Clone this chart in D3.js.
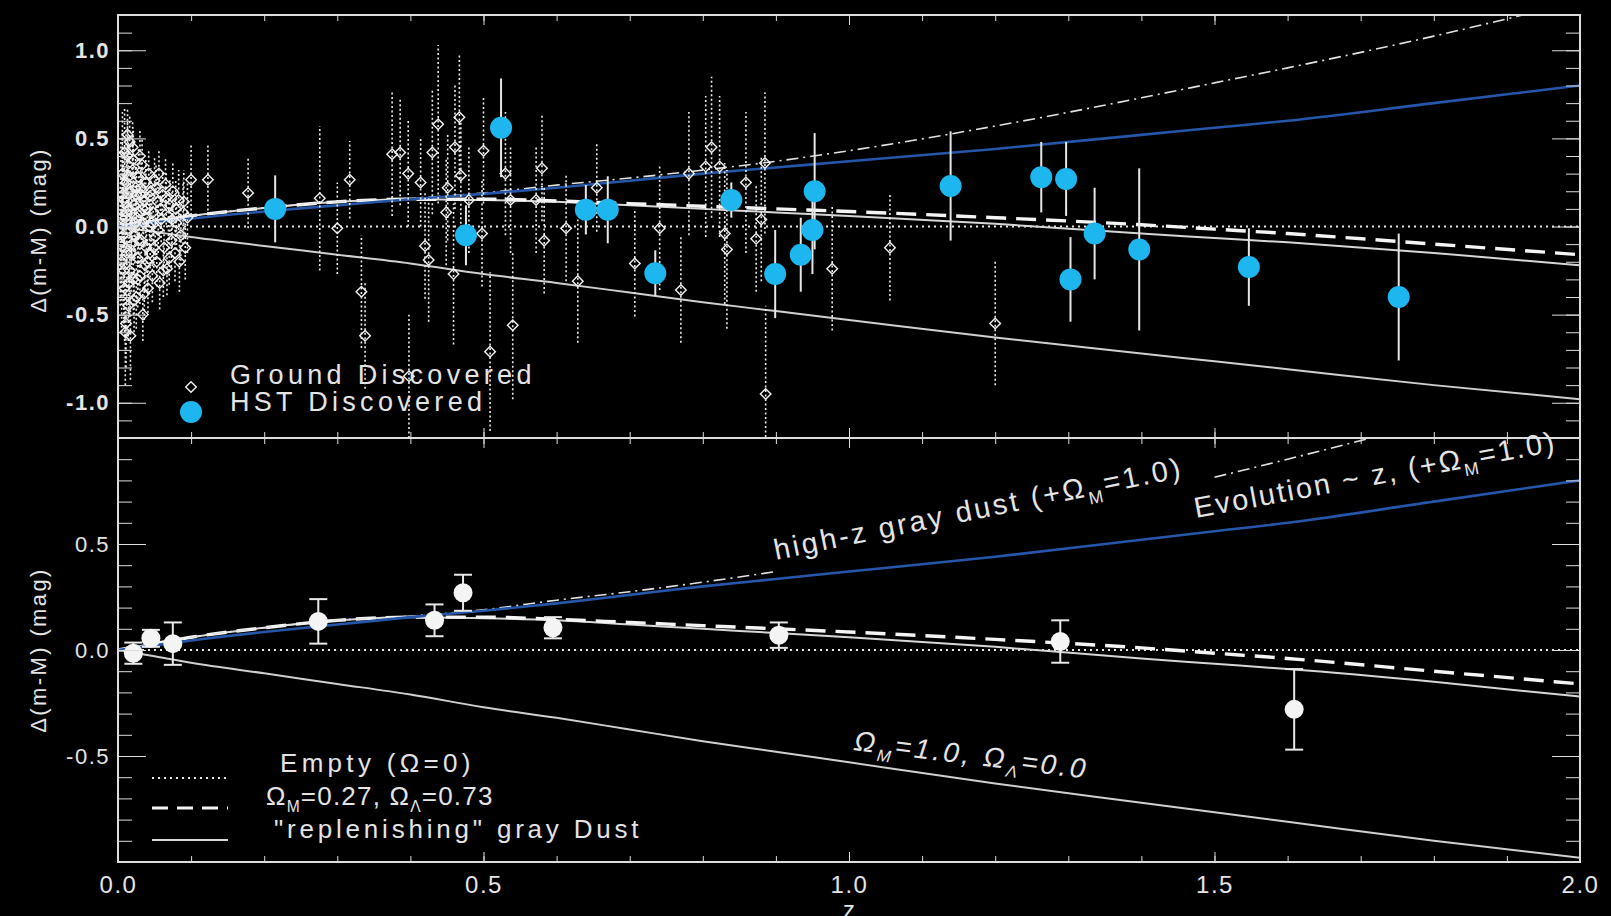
<!DOCTYPE html>
<html>
<head>
<meta charset="utf-8">
<script src="https://cdn.jsdelivr.net/npm/d3@7"></script>
<style>
  html, body { margin: 0; background: #000; }
  svg { display: block; background: #000; }
  text { font-family: "Liberation Sans", Arial, Helvetica, sans-serif; fill: #e4e4e4; }
  .tick text { font-size: 22px; letter-spacing: 1.5px; }
  .xlab .tick text { font-size: 24px; letter-spacing: 1.5px; }
  .bold .tick text { font-weight: bold; }
</style>
</head>
<body>
<svg id="chart" width="1611" height="916"></svg>
<script>
// ---- data ----
// HST discovered SNe (top panel, cyan)
const hstZ   = [0.215, 0.476, 0.524, 0.640, 0.670, 0.735, 0.839, 0.899, 0.934, 0.950, 0.953, 1.139, 1.263, 1.297, 1.303, 1.336, 1.397, 1.547, 1.752];
const hstDm  = [0.10, -0.05, 0.56, 0.095, 0.095, -0.265, 0.15, -0.27, -0.16, -0.02, 0.20, 0.23, 0.28, 0.27, -0.30, -0.04, -0.13, -0.23, -0.40];
const hstErr = [0.19, 0.17, 0.28, 0.14, 0.19, 0.13, 0.10, 0.25, 0.21, 0.25, 0.33, 0.31, 0.20, 0.21, 0.24, 0.26, 0.46, 0.22, 0.36];

// ground discovered SNe (top panel, open diamonds)
const groundZ = [
  0.004, 0.005, 0.006, 0.007, 0.008, 0.009, 0.010, 0.011, 0.012, 0.013, 0.014, 0.015, 0.016, 0.017, 0.018, 0.019,
  0.020, 0.021, 0.022, 0.023, 0.024, 0.025, 0.026, 0.027, 0.028, 0.029, 0.030, 0.031, 0.032, 0.033, 0.034, 0.035,
  0.036, 0.037, 0.038, 0.039, 0.040, 0.041, 0.042, 0.043, 0.044, 0.045, 0.047, 0.048, 0.050, 0.051, 0.053, 0.054,
  0.056, 0.057, 0.059, 0.061, 0.063, 0.065, 0.067, 0.069, 0.071, 0.073, 0.075, 0.078, 0.080, 0.083, 0.086, 0.089,
  0.092, 0.095,
  0.003, 0.006, 0.008, 0.009, 0.011, 0.012, 0.014, 0.015, 0.016, 0.018, 0.019, 0.021, 0.022, 0.024, 0.025, 0.027,
  0.028, 0.030, 0.032, 0.034, 0.036, 0.038, 0.040, 0.043, 0.046, 0.049, 0.052, 0.055, 0.058, 0.062, 0.066, 0.070,
  0.074, 0.079, 0.084, 0.090, 0.010, 0.013, 0.017, 0.020,
  0.100, 0.123, 0.178, 0.276, 0.300, 0.317, 0.333, 0.338, 0.375, 0.386, 0.397, 0.398, 0.414, 0.420, 0.425, 0.430,
  0.438, 0.449, 0.451, 0.459, 0.461, 0.467, 0.469, 0.480, 0.498, 0.500, 0.509, 0.530, 0.537, 0.540, 0.572, 0.580,
  0.583, 0.613, 0.629, 0.655, 0.707, 0.741, 0.770, 0.781, 0.804, 0.812, 0.823, 0.830, 0.833, 0.859, 0.873, 0.880,
  0.885, 0.886, 0.977, 1.056, 1.200
];
const groundDm = [
  0.05, -0.20, 0.30, -0.05, 0.15, -0.35, 0.05, 0.25, -0.15, 0.40, -0.45, 0.10, -0.25, 0.20, 0.00, -0.10,
  0.32, -0.30, 0.12, -0.05, 0.22, -0.40, 0.05, -0.18, 0.28, 0.08, -0.28, 0.18, -0.08, 0.35, -0.50, 0.02,
  0.15, -0.22, 0.25, -0.12, 0.10, -0.35, 0.30, 0.00, -0.15, 0.20, -0.28, 0.08, 0.26, -0.06, -0.20, 0.14,
  0.30, -0.32, 0.04, 0.18, -0.12, 0.24, -0.24, 0.06, 0.12, -0.08, 0.20, -0.15, 0.02, 0.15, -0.05, 0.08,
  -0.12, 0.05,
  -0.10, 0.18, -0.25, 0.42, -0.55, 0.08, 0.28, -0.32, 0.48, -0.15, 0.14, 0.38, -0.42, 0.02, 0.18, -0.30,
  -0.08, 0.40, 0.22, 0.10, -0.38, 0.05, -0.20, 0.17, 0.02, -0.12, 0.22, -0.02, 0.10, -0.25, 0.16, -0.18,
  0.04, 0.10, -0.20, 0.14, -0.60, 0.52, -0.62, 0.45,
  0.265, 0.265, 0.19, 0.16, -0.01, 0.265, -0.37, -0.62, 0.41, 0.42, 0.30, -0.85, 0.25, -0.11, -0.19, 0.42,
  0.58, 0.08, 0.22, -0.27, 0.45, 0.62, 0.29, 0.15, -0.04, 0.43, -0.71, 0.30, 0.15, -0.56, 0.15, 0.33,
  -0.08, -0.01, -0.31, 0.22, -0.21, -0.01, -0.36, 0.30, 0.34, 0.45, 0.34, -0.04, -0.13, 0.25, -0.07, 0.04,
  0.36, -0.95, -0.24, -0.12, -0.55
];
const groundErr = [
  0.45, 0.40, 0.35, 0.40, 0.30, 0.30, 0.25, 0.30, 0.30, 0.20, 0.20, 0.22, 0.25, 0.20, 0.20, 0.22,
  0.18, 0.20, 0.18, 0.16, 0.18, 0.18, 0.15, 0.18, 0.16, 0.15, 0.16, 0.15, 0.15, 0.15, 0.15, 0.14,
  0.14, 0.15, 0.14, 0.14, 0.13, 0.14, 0.14, 0.13, 0.14, 0.13, 0.15, 0.13, 0.14, 0.13, 0.14, 0.13,
  0.14, 0.15, 0.13, 0.14, 0.14, 0.15, 0.15, 0.14, 0.15, 0.15, 0.16, 0.16, 0.15, 0.17, 0.17, 0.18,
  0.18, 0.20,
  0.35, 0.35, 0.30, 0.25, 0.25, 0.30, 0.25, 0.22, 0.15, 0.22, 0.20, 0.18, 0.18, 0.16, 0.16, 0.16,
  0.15, 0.15, 0.15, 0.14, 0.15, 0.14, 0.14, 0.13, 0.13, 0.14, 0.14, 0.13, 0.14, 0.15, 0.15, 0.15,
  0.16, 0.16, 0.17, 0.18, 0.30, 0.15, 0.25, 0.15,
  0.20, 0.20, 0.20, 0.41, 0.26, 0.22, 0.32, 0.30, 0.35, 0.30, 0.30, 0.35, 0.25, 0.30, 0.35, 0.35,
  0.45, 0.30, 0.30, 0.40, 0.35, 0.35, 0.30, 0.30, 0.30, 0.30, 0.45, 0.35, 0.30, 0.42, 0.30, 0.30,
  0.30, 0.30, 0.35, 0.25, 0.30, 0.35, 0.30, 0.35, 0.40, 0.40, 0.40, 0.40, 0.45, 0.40, 0.30, 0.35,
  0.40, 0.50, 0.35, 0.30, 0.35
];

// binned points (bottom panel)
const binZ   = [0.021, 0.045, 0.075, 0.274, 0.433, 0.472, 0.595, 0.904, 1.289, 1.609];
const binDm  = [-0.015, 0.055, 0.03, 0.135, 0.14, 0.27, 0.105, 0.07, 0.04, -0.28];
const binErr = [0.05, 0.04, 0.10, 0.105, 0.075, 0.085, 0.05, 0.06, 0.10, 0.19];

// model curves, Δ(m-M) relative to the empty universe
const modelZ      = [0, 0.05, 0.1, 0.2, 0.3, 0.4, 0.5, 0.6, 0.7, 0.8, 0.9, 1.0, 1.2, 1.4, 1.5, 1.6, 1.8, 2.0];
const lcdmDm      = [0, 0.03, 0.06, 0.105, 0.14, 0.155, 0.155, 0.145, 0.13, 0.115, 0.10, 0.085, 0.05, 0.01, -0.015, -0.04, -0.10, -0.16];
const replDustDm  = [0, 0.03, 0.06, 0.105, 0.14, 0.155, 0.15, 0.14, 0.12, 0.10, 0.08, 0.06, 0.015, -0.04, -0.065, -0.09, -0.15, -0.22];
const omegaM1Dm   = [0, -0.03, -0.06, -0.11, -0.16, -0.21, -0.27, -0.32, -0.375, -0.43, -0.48, -0.53, -0.63, -0.72, -0.765, -0.81, -0.90, -0.98];
const grayDustDm  = [0, 0.03, 0.06, 0.105, 0.14, 0.16, 0.19, 0.235, 0.275, 0.32, 0.37, 0.43, 0.57, 0.73, 0.815, 0.90, 1.08, 1.28];
const evolutionDm = [0, 0.022, 0.045, 0.085, 0.12, 0.155, 0.185, 0.22, 0.26, 0.30, 0.335, 0.37, 0.44, 0.52, 0.56, 0.60, 0.70, 0.80];

const xMajor = [0, 0.5, 1, 1.5, 2];
const topLabels = [-1, -0.5, 0, 0.5, 1];
const botLabels = [-0.5, 0, 0.5];

// ---- layout ----
const X0 = 118, X1 = 1580;
const T0 = 15, MID = 438, B1 = 862;
const FG = '#dcdcdc';
const CYAN = '#1db6ee';

const svg = d3.select('#chart');
const x = d3.scaleLinear().domain([0, 2]).range([X0, X1]);
const yTop = d3.scaleLinear().domain([-1.2, 1.2]).range([MID, T0]);
const yBot = d3.scaleLinear().domain([-1, 1]).range([B1, MID]);

const defs = svg.append('defs');
defs.append('clipPath').attr('id', 'clipTop').append('rect')
  .attr('x', X0).attr('y', T0).attr('width', X1 - X0).attr('height', MID - T0);
defs.append('clipPath').attr('id', 'clipBot').append('rect')
  .attr('x', X0).attr('y', MID).attr('width', X1 - X0).attr('height', B1 - MID);

const xMinor = d3.range(0, 21).map(i => i / 10);

function yAxes(y, lo, hi, labels, bold) {
  const minors = d3.range(Math.round(lo * 10), Math.round(hi * 10) + 1).map(i => i / 10);
  const majors = minors.filter(v => Math.abs(v * 2 - Math.round(v * 2)) < 1e-6);
  const left = svg.append('g').attr('class', bold ? 'bold' : '')
    .attr('transform', `translate(${X0},0)`).attr('color', FG);
  left.append('g').call(d3.axisLeft(y).tickValues(majors).tickSizeInner(-28).tickSizeOuter(0).tickFormat(''));
  left.append('g').call(d3.axisLeft(y).tickValues(minors).tickSizeInner(-14).tickSizeOuter(0).tickFormat(''));
  left.append('g').call(d3.axisLeft(y).tickValues(labels).tickSize(0).tickPadding(8).tickFormat(d => d.toFixed(1)));
  const right = svg.append('g').attr('transform', `translate(${X1},0)`).attr('color', FG);
  right.append('g').call(d3.axisRight(y).tickValues(majors).tickSizeInner(-28).tickSizeOuter(0).tickFormat(''));
  right.append('g').call(d3.axisRight(y).tickValues(minors).tickSizeInner(-14).tickSizeOuter(0).tickFormat(''));
}

function xTicks(ypos, dir) {
  // dir = 1 ticks point down into the panel, -1 point up
  const g = svg.append('g').attr('transform', `translate(0,${ypos})`).attr('color', FG);
  const ax = dir > 0 ? d3.axisTop : d3.axisBottom;
  g.append('g').call(ax(x).tickValues(xMinor).tickSizeInner(-6).tickSizeOuter(0).tickFormat(''));
  g.append('g').call(ax(x).tickValues(xMajor).tickSizeInner(-10).tickSizeOuter(0).tickFormat(''));
  return g;
}

// ---- model curves ----
function drawModels(g, y, split) {
  const line = d3.line().x(d => x(d[0])).y(d => y(d[1])).curve(d3.curveMonotoneX);
  const pts = arr => modelZ.map((z, i) => [z, arr[i]]);
  g.append('line').attr('x1', X0).attr('x2', X1).attr('y1', y(0)).attr('y2', y(0))
    .attr('stroke', '#e8e8e8').attr('stroke-width', 1.8).attr('stroke-dasharray', '2,4');
  g.append('path').attr('d', line(pts(omegaM1Dm))).attr('fill', 'none')
    .attr('stroke', '#cfcfcf').attr('stroke-width', 2);
  g.append('path').attr('d', line(pts(replDustDm))).attr('fill', 'none')
    .attr('stroke', '#d6d6d6').attr('stroke-width', 2);
  g.append('path').attr('d', line(pts(lcdmDm))).attr('fill', 'none')
    .attr('stroke', '#f4f4f4').attr('stroke-width', 3.4).attr('stroke-dasharray', '20,10');
  const dustLine = d3.line().x(d => x(d[0])).y(d => y(d[1])).curve(d3.curveMonotoneX)
    .defined(d => !split || d[0] <= 0.9 || d[0] >= 1.5);
  g.append('path').attr('d', dustLine(pts(grayDustDm))).attr('fill', 'none')
    .attr('stroke', '#e2e2e2').attr('stroke-width', 1.6).attr('stroke-dasharray', '12,5,2,5');
  g.append('path').attr('d', line(pts(evolutionDm))).attr('fill', 'none')
    .attr('stroke', '#2656aa').attr('stroke-width', 2.6);
}

const gTop = svg.append('g').attr('clip-path', 'url(#clipTop)');
const gBot = svg.append('g').attr('clip-path', 'url(#clipBot)');
drawModels(gTop, yTop, false);
drawModels(gBot, yBot, true);

// ---- top panel points ----
const ground = groundZ.map((z, i) => ({ z, dm: groundDm[i], e: groundErr[i] }));
gTop.append('g').selectAll('line').data(ground).join('line')
  .attr('x1', d => x(d.z)).attr('x2', d => x(d.z))
  .attr('y1', d => yTop(d.dm - d.e)).attr('y2', d => yTop(d.dm + d.e))
  .attr('stroke', '#ececec').attr('stroke-width', 1.6).attr('stroke-dasharray', '2,2.5');
const diamond = d3.symbol().type(d3.symbolSquare).size(56);
gTop.append('g').selectAll('path').data(ground).join('path')
  .attr('d', diamond)
  .attr('transform', d => `translate(${x(d.z)},${yTop(d.dm)}) rotate(45)`)
  .attr('fill', 'none').attr('stroke', '#f0f0f0').attr('stroke-width', 1.4);

const hst = hstZ.map((z, i) => ({ z, dm: hstDm[i], e: hstErr[i] }));
gTop.append('g').selectAll('line').data(hst).join('line')
  .attr('x1', d => x(d.z)).attr('x2', d => x(d.z))
  .attr('y1', d => yTop(d.dm - d.e)).attr('y2', d => yTop(d.dm + d.e))
  .attr('stroke', '#e6e6e6').attr('stroke-width', 2);
gTop.append('g').selectAll('circle').data(hst).join('circle')
  .attr('cx', d => x(d.z)).attr('cy', d => yTop(d.dm)).attr('r', 11)
  .attr('fill', CYAN);

// ---- bottom panel binned points ----
const bins = binZ.map((z, i) => ({ z, dm: binDm[i], e: binErr[i] }));
const gb = gBot.append('g').selectAll('g').data(bins).join('g').attr('stroke', '#e8e8e8').attr('stroke-width', 2);
gb.append('line').attr('x1', d => x(d.z)).attr('x2', d => x(d.z))
  .attr('y1', d => yBot(d.dm - d.e)).attr('y2', d => yBot(d.dm + d.e));
gb.append('line').attr('x1', d => x(d.z) - 9).attr('x2', d => x(d.z) + 9)
  .attr('y1', d => yBot(d.dm + d.e)).attr('y2', d => yBot(d.dm + d.e));
gb.append('line').attr('x1', d => x(d.z) - 9).attr('x2', d => x(d.z) + 9)
  .attr('y1', d => yBot(d.dm - d.e)).attr('y2', d => yBot(d.dm - d.e));
gb.append('circle').attr('cx', d => x(d.z)).attr('cy', d => yBot(d.dm)).attr('r', 9.5)
  .attr('fill', '#f4f4f4').attr('stroke', 'none');

// ---- frames and ticks ----
svg.append('rect').attr('x', X0).attr('y', T0).attr('width', X1 - X0).attr('height', B1 - T0)
  .attr('fill', 'none').attr('stroke', FG).attr('stroke-width', 2);
svg.append('line').attr('x1', X0).attr('x2', X1).attr('y1', MID).attr('y2', MID)
  .attr('stroke', FG).attr('stroke-width', 2);

yAxes(yTop, -1.2, 1.2, topLabels, true);
yAxes(yBot, -1.0, 1.0, botLabels, false);
xTicks(T0, 1);
xTicks(MID, -1);
xTicks(MID, 1);
xTicks(B1, -1);

svg.append('g').attr('class', 'xlab').attr('transform', `translate(0,${B1})`)
  .call(d3.axisBottom(x).tickValues(xMajor).tickSize(0).tickPadding(14).tickFormat(d => d.toFixed(1)));
svg.selectAll('.domain').remove();

// axis titles
[230, 650].forEach(cy => {
  svg.append('text').attr('transform', `translate(46,${cy}) rotate(-90)`)
    .attr('text-anchor', 'middle').style('font-size', '22px').style('letter-spacing', '2.4px')
    .text('\u0394(m-M) (mag)');
});
svg.append('text').attr('x', x(1)).attr('y', 918).attr('text-anchor', 'middle')
  .style('font-size', '24px').text('z');

// ---- text helper: strings are plain runs, {sub} objects are subscripts ----
function rich(parent, pieces, fs) {
  const t = parent.append('text').style('font-size', fs + 'px');
  const shift = fs * 0.28;
  let lowered = false;
  pieces.forEach(p => {
    if (typeof p === 'string') {
      const s = t.append('tspan').text(p);
      if (lowered) { s.attr('dy', -shift); lowered = false; }
    } else {
      t.append('tspan').attr('dy', shift).style('font-size', (fs * 0.6) + 'px').text(p.sub);
      lowered = true;
    }
  });
  return t;
}

// top legend
svg.append('path').attr('d', diamond()).attr('transform', 'translate(191,387) rotate(45)')
  .attr('fill', 'none').attr('stroke', '#f0f0f0').attr('stroke-width', 1.4);
svg.append('circle').attr('cx', 191).attr('cy', 412).attr('r', 11).attr('fill', CYAN);
svg.append('text').attr('x', 230).attr('y', 384).style('font-size', '27px').style('letter-spacing', '4.3px')
  .text('Ground Discovered');
svg.append('text').attr('x', 230).attr('y', 411).style('font-size', '27px').style('letter-spacing', '4.3px')
  .text('HST Discovered');

// bottom legend
const legY = [778, 808, 840];
svg.append('line').attr('x1', 152).attr('x2', 228).attr('y1', legY[0]).attr('y2', legY[0])
  .attr('stroke', '#e8e8e8').attr('stroke-width', 1.8).attr('stroke-dasharray', '2,4');
svg.append('line').attr('x1', 152).attr('x2', 228).attr('y1', legY[1]).attr('y2', legY[1])
  .attr('stroke', '#f4f4f4').attr('stroke-width', 3).attr('stroke-dasharray', '16,9');
svg.append('line').attr('x1', 152).attr('x2', 228).attr('y1', legY[2]).attr('y2', legY[2])
  .attr('stroke', '#d6d6d6').attr('stroke-width', 2);
rich(svg, ['Empty (\u03A9=0)'], 26).attr('x', 280).attr('y', 772).style('letter-spacing', '4.3px');
rich(svg, ['\u03A9', { sub: 'M' }, '=0.27, \u03A9', { sub: '\u039B' }, '=0.73'], 26)
  .attr('x', 266).attr('y', 805).style('letter-spacing', '1.2px');
rich(svg, ['"replenishing" gray Dust'], 26).attr('x', 274).attr('y', 838).style('letter-spacing', '3.8px');

// curve annotations
rich(svg, ['high-z gray dust (+\u03A9', { sub: 'M' }, '=1.0)'], 29)
  .attr('transform', 'translate(776,560) rotate(-11.5)').style('letter-spacing', '2.8px');
rich(svg, ['Evolution ~ z, (+\u03A9', { sub: 'M' }, '=1.0)'], 29)
  .attr('transform', 'translate(1196,518) rotate(-10.5)').style('letter-spacing', '2.3px');
rich(svg, ['\u03A9', { sub: 'M' }, '=1.0, \u03A9', { sub: '\u039B' }, '=0.0'], 28)
  .attr('transform', 'translate(853,750) rotate(7)').style('letter-spacing', '3px')
  .style('font-style', 'italic');
</script>
</body>
</html>
